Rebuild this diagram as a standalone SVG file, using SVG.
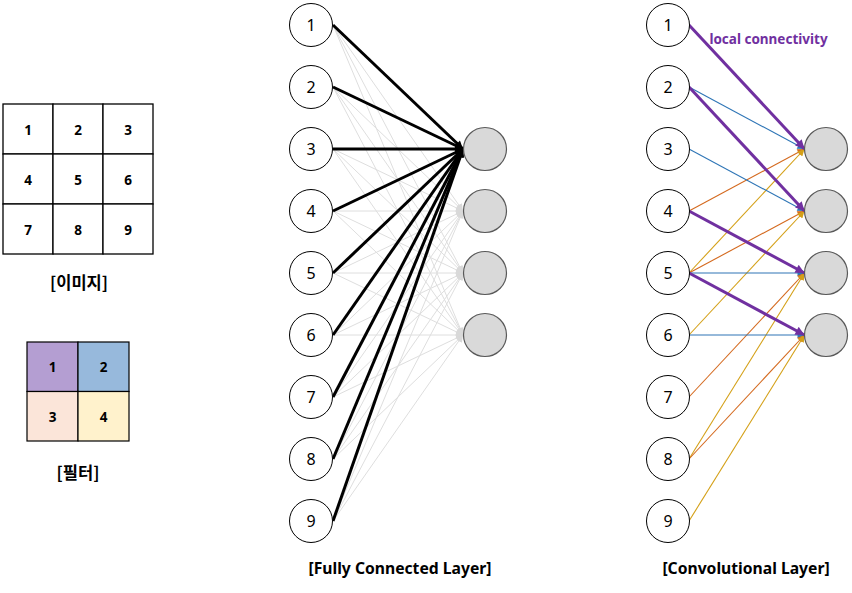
<svg xmlns="http://www.w3.org/2000/svg" width="852" height="593" viewBox="0 0 852 593">
<style>
.cell{fill:#fff;stroke:#000;stroke-width:1.3}
.num{font-family:"Noto Sans","Noto Sans CJK KR",sans-serif;font-weight:bold;font-size:13.5px;text-anchor:middle;fill:#000}
.cap{font-family:"Noto Sans","Noto Sans CJK KR",sans-serif;font-weight:bold;font-size:15.7px;text-anchor:middle;fill:#000}
.kcap{font-family:"Noto Sans CJK KR",sans-serif;font-weight:bold;font-size:16.5px;text-anchor:middle;fill:#000}
.in{fill:#fff;stroke:#000;stroke-width:1}
.out{fill:#d9d9d9;stroke:#595959;stroke-width:1.2}
.nl{font-family:"Noto Sans","Noto Sans CJK KR",sans-serif;font-size:16px;text-anchor:middle;fill:#000}
.blk{stroke:#000;stroke-width:3;fill:none}
.gry{stroke:#dedede;stroke-width:1;fill:none}
.pur{stroke:#7030a0;stroke-width:3;fill:none}
.blu{stroke:#2e75b6;stroke-width:1.1;fill:none}
.org{stroke:#d4691e;stroke-width:1.1;fill:none}
.gld{stroke:#d4a017;stroke-width:1.1;fill:none}
</style>
<defs>
<marker id="aBlk" viewBox="0 0 10 10" refX="10" refY="5" markerUnits="userSpaceOnUse" markerWidth="9" markerHeight="8" orient="auto"><path d="M0,0L10,5L0,10z" fill="#000"/></marker>
<marker id="aGry" viewBox="0 0 10 10" refX="10" refY="5" markerUnits="userSpaceOnUse" markerWidth="8" markerHeight="7" orient="auto"><path d="M0,0L10,5L0,10z" fill="#d9d9d9"/></marker>
<marker id="aPur" viewBox="0 0 10 10" refX="10" refY="5" markerUnits="userSpaceOnUse" markerWidth="11" markerHeight="9" orient="auto"><path d="M0,0L10,5L0,10z" fill="#7030a0"/></marker>
<marker id="aBlu" viewBox="0 0 10 10" refX="10" refY="5" markerUnits="userSpaceOnUse" markerWidth="9" markerHeight="7" orient="auto"><path d="M0,0L10,5L0,10z" fill="#2e75b6"/></marker>
<marker id="aOrg" viewBox="0 0 10 10" refX="10" refY="5" markerUnits="userSpaceOnUse" markerWidth="9" markerHeight="7" orient="auto"><path d="M0,0L10,5L0,10z" fill="#d4691e"/></marker>
<marker id="aGld" viewBox="0 0 10 10" refX="10" refY="5" markerUnits="userSpaceOnUse" markerWidth="9" markerHeight="7" orient="auto"><path d="M0,0L10,5L0,10z" fill="#d4a017"/></marker>
</defs>

<g id="image-grid">
<rect class="cell" x="3" y="104" width="50" height="50"/>
<rect class="cell" x="53" y="104" width="50" height="50"/>
<rect class="cell" x="103" y="104" width="50" height="50"/>
<rect class="cell" x="3" y="154" width="50" height="50"/>
<rect class="cell" x="53" y="154" width="50" height="50"/>
<rect class="cell" x="103" y="154" width="50" height="50"/>
<rect class="cell" x="3" y="204" width="50" height="50"/>
<rect class="cell" x="53" y="204" width="50" height="50"/>
<rect class="cell" x="103" y="204" width="50" height="50"/>
<text class="num" x="28" y="135">1</text>
<text class="num" x="78" y="135">2</text>
<text class="num" x="128" y="135">3</text>
<text class="num" x="28" y="185">4</text>
<text class="num" x="78" y="185">5</text>
<text class="num" x="128" y="185">6</text>
<text class="num" x="28" y="235">7</text>
<text class="num" x="78" y="235">8</text>
<text class="num" x="128" y="235">9</text>
<text class="kcap" x="79" y="289">[이미지]</text>
</g>

<g id="filter">
<rect x="27" y="342" width="51" height="49.5" fill="#b49ed2" stroke="#000" stroke-width="1.2"/>
<rect x="78" y="342" width="51" height="49.5" fill="#97b9dc" stroke="#000" stroke-width="1.2"/>
<rect x="27" y="391.5" width="51" height="49.5" fill="#fbe5d9" stroke="#000" stroke-width="1.2"/>
<rect x="78" y="391.5" width="51" height="49.5" fill="#fff2cc" stroke="#000" stroke-width="1.2"/>
<text class="num" x="52.5" y="372">1</text>
<text class="num" x="103.5" y="372">2</text>
<text class="num" x="52.5" y="422">3</text>
<text class="num" x="103.5" y="422">4</text>
<text class="kcap" x="78" y="479">[필터]</text>
</g>

<g id="fc-connectors">
<g class="gry" marker-end="url(#aGry)">
<line x1="333" y1="25" x2="463" y2="211"/><line x1="333" y1="25" x2="463" y2="273"/><line x1="333" y1="25" x2="463" y2="335"/>
<line x1="333" y1="87" x2="463" y2="211"/><line x1="333" y1="87" x2="463" y2="273"/><line x1="333" y1="87" x2="463" y2="335"/>
<line x1="333" y1="149" x2="463" y2="211"/><line x1="333" y1="149" x2="463" y2="273"/><line x1="333" y1="149" x2="463" y2="335"/>
<line x1="333" y1="211" x2="463" y2="211"/><line x1="333" y1="211" x2="463" y2="273"/><line x1="333" y1="211" x2="463" y2="335"/>
<line x1="333" y1="273" x2="463" y2="211"/><line x1="333" y1="273" x2="463" y2="273"/><line x1="333" y1="273" x2="463" y2="335"/>
<line x1="333" y1="335" x2="463" y2="211"/><line x1="333" y1="335" x2="463" y2="273"/><line x1="333" y1="335" x2="463" y2="335"/>
<line x1="333" y1="397" x2="463" y2="211"/><line x1="333" y1="397" x2="463" y2="273"/><line x1="333" y1="397" x2="463" y2="335"/>
<line x1="333" y1="459" x2="463" y2="211"/><line x1="333" y1="459" x2="463" y2="273"/><line x1="333" y1="459" x2="463" y2="335"/>
<line x1="333" y1="521" x2="463" y2="211"/><line x1="333" y1="521" x2="463" y2="273"/><line x1="333" y1="521" x2="463" y2="335"/>
</g>
<g class="blk" marker-end="url(#aBlk)">
<line x1="333" y1="25" x2="463" y2="149"/>
<line x1="333" y1="87" x2="463" y2="149"/>
<line x1="333" y1="149" x2="463" y2="149"/>
<line x1="333" y1="211" x2="463" y2="149"/>
<line x1="333" y1="273" x2="463" y2="149"/>
<line x1="333" y1="335" x2="463" y2="149"/>
<line x1="333" y1="397" x2="463" y2="149"/>
<line x1="333" y1="459" x2="463" y2="149"/>
<line x1="333" y1="521" x2="463" y2="149"/>
</g>
</g>

<g id="fc-in-1"><circle class="in" cx="311" cy="25" r="21.5"/><text class="nl" x="311" y="30.5">1</text></g>
<g id="fc-in-2"><circle class="in" cx="311" cy="87" r="21.5"/><text class="nl" x="311" y="92.5">2</text></g>
<g id="fc-in-3"><circle class="in" cx="311" cy="149" r="21.5"/><text class="nl" x="311" y="154.5">3</text></g>
<g id="fc-in-4"><circle class="in" cx="311" cy="211" r="21.5"/><text class="nl" x="311" y="216.5">4</text></g>
<g id="fc-in-5"><circle class="in" cx="311" cy="273" r="21.5"/><text class="nl" x="311" y="278.5">5</text></g>
<g id="fc-in-6"><circle class="in" cx="311" cy="335" r="21.5"/><text class="nl" x="311" y="340.5">6</text></g>
<g id="fc-in-7"><circle class="in" cx="311" cy="397" r="21.5"/><text class="nl" x="311" y="402.5">7</text></g>
<g id="fc-in-8"><circle class="in" cx="311" cy="459" r="21.5"/><text class="nl" x="311" y="464.5">8</text></g>
<g id="fc-in-9"><circle class="in" cx="311" cy="521" r="21.5"/><text class="nl" x="311" y="526.5">9</text></g>
<g id="fc-out-1"><circle class="out" cx="485" cy="149" r="21.5"/></g>
<g id="fc-out-2"><circle class="out" cx="485" cy="211" r="21.5"/></g>
<g id="fc-out-3"><circle class="out" cx="485" cy="273" r="21.5"/></g>
<g id="fc-out-4"><circle class="out" cx="485" cy="335" r="21.5"/></g>
<text class="cap" x="400" y="574">[Fully Connected Layer]</text>

<g id="conv-connectors">
<line class="blu" x1="689" y1="87" x2="804.5" y2="149" marker-end="url(#aBlu)"/>
<line class="org" x1="689" y1="211" x2="804.5" y2="149" marker-end="url(#aOrg)"/>
<line class="gld" x1="689" y1="273" x2="804.5" y2="149" marker-end="url(#aGld)"/>
<line class="blu" x1="689" y1="149" x2="804.5" y2="211" marker-end="url(#aBlu)"/>
<line class="org" x1="689" y1="273" x2="804.5" y2="211" marker-end="url(#aOrg)"/>
<line class="gld" x1="689" y1="335" x2="804.5" y2="211" marker-end="url(#aGld)"/>
<line class="blu" x1="689" y1="273" x2="804.5" y2="273" marker-end="url(#aBlu)"/>
<line class="org" x1="689" y1="397" x2="804.5" y2="273" marker-end="url(#aOrg)"/>
<line class="gld" x1="689" y1="459" x2="804.5" y2="273" marker-end="url(#aGld)"/>
<line class="blu" x1="689" y1="335" x2="804.5" y2="335" marker-end="url(#aBlu)"/>
<line class="org" x1="689" y1="459" x2="804.5" y2="335" marker-end="url(#aOrg)"/>
<line class="gld" x1="689" y1="521" x2="804.5" y2="335" marker-end="url(#aGld)"/>
<line class="pur" x1="689" y1="25" x2="804.5" y2="149" marker-end="url(#aPur)"/>
<line class="pur" x1="689" y1="87" x2="804.5" y2="211" marker-end="url(#aPur)"/>
<line class="pur" x1="689" y1="211" x2="804.5" y2="273" marker-end="url(#aPur)"/>
<line class="pur" x1="689" y1="273" x2="804.5" y2="335" marker-end="url(#aPur)"/>
</g>

<g id="cv-in-1"><circle class="in" cx="668" cy="25" r="21.5"/><text class="nl" x="668" y="30.5">1</text></g>
<g id="cv-in-2"><circle class="in" cx="668" cy="87" r="21.5"/><text class="nl" x="668" y="92.5">2</text></g>
<g id="cv-in-3"><circle class="in" cx="668" cy="149" r="21.5"/><text class="nl" x="668" y="154.5">3</text></g>
<g id="cv-in-4"><circle class="in" cx="668" cy="211" r="21.5"/><text class="nl" x="668" y="216.5">4</text></g>
<g id="cv-in-5"><circle class="in" cx="668" cy="273" r="21.5"/><text class="nl" x="668" y="278.5">5</text></g>
<g id="cv-in-6"><circle class="in" cx="668" cy="335" r="21.5"/><text class="nl" x="668" y="340.5">6</text></g>
<g id="cv-in-7"><circle class="in" cx="668" cy="397" r="21.5"/><text class="nl" x="668" y="402.5">7</text></g>
<g id="cv-in-8"><circle class="in" cx="668" cy="459" r="21.5"/><text class="nl" x="668" y="464.5">8</text></g>
<g id="cv-in-9"><circle class="in" cx="668" cy="521" r="21.5"/><text class="nl" x="668" y="526.5">9</text></g>
<g id="cv-out-1"><circle class="out" cx="826" cy="149" r="21.5"/></g>
<g id="cv-out-2"><circle class="out" cx="826" cy="211" r="21.5"/></g>
<g id="cv-out-3"><circle class="out" cx="826" cy="273" r="21.5"/></g>
<g id="cv-out-4"><circle class="out" cx="826" cy="335" r="21.5"/></g>
<text x="768.5" y="44" font-family="Noto Sans, Noto Sans CJK KR, sans-serif" font-weight="bold" font-size="13.5" fill="#7030a0" text-anchor="middle">local connectivity</text>
<text class="cap" x="746" y="574">[Convolutional Layer]</text>
</svg>
